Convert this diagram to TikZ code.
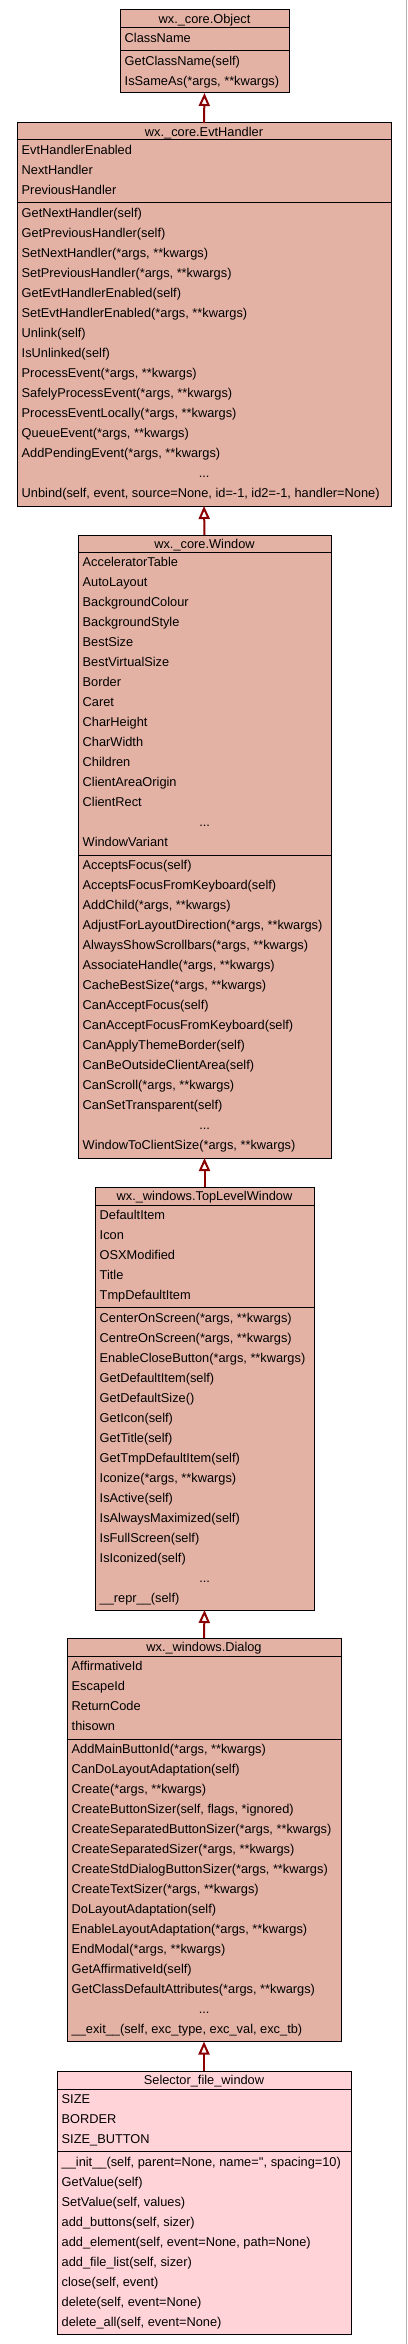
\documentclass[tikz,border=0pt]{standalone}
\usepackage{fontspec}
\newfontfamily\umlfont{Liberation Sans}
\usetikzlibrary{arrows.meta}
\definecolor{salmonbox}{RGB}{228,178,165}
\definecolor{pinkbox}{RGB}{255,211,215}
\definecolor{arrowred}{RGB}{139,0,0}
\newlength\curw
\tikzset{
  classbox/.style={draw=black, line width=1pt, rectangle, inner sep=0pt, outer sep=0pt},
  sepline/.style={draw=black, line width=1pt},
  titletext/.style={font=\umlfont\fontsize{12.8}{15}\selectfont, anchor=base, inner sep=0pt},
  rowtext/.style={font=\umlfont\fontsize{12.8}{15}\selectfont, anchor=base west, inner sep=0pt},
  inh/.style={draw=arrowred, line width=2pt, -{Triangle[open, length=13pt, width=11pt]}},
}
\newcommand\ELL{\makebox[\curw][c]{...}}
\newcommand\umlclass[9]{%
  \pgfmathsetmacro\cwd{#3-#2}%
  \pgfmathsetmacro\cht{#7-#4}%
  \setlength\curw{\dimexpr\cwd pt-9pt\relax}%
  \node[classbox, fill=#8, minimum width=\cwd pt, minimum height=\cht pt] (#1) at ({(#2+#3)/2},{(#4+#7)/2}) {};
  \draw[sepline] (#2,#5) -- (#3,#5);
  \draw[sepline] (#2,#6) -- (#3,#6);
  \node[titletext] (#1-title) at ({(#2+#3)/2},#4+13.5) {#9};
  \def\clft{#2}\def\ctit{#5}\def\csep{#6}\def\cnam{#1}%
}
\newcommand\attrs[1]{\foreach \t [count=\i from 0] in {#1} {\node[rowtext] (\cnam-a\i) at (\clft+4.5,\ctit+14.8+20*\i) {\t};}}
\newcommand\meths[1]{\foreach \t [count=\i from 0] in {#1} {\node[rowtext] (\cnam-m\i) at (\clft+4.5,\csep+14.8+20*\i) {\t};}}
\begin{document}
\begin{tikzpicture}[x=1pt,y=-1pt]
\useasboundingbox (0,0) rectangle (407,2344);
\fill[white] (0,0) rectangle (407,2344);
\draw[black!30, line width=1pt] (406,0) -- (406,2344);

\umlclass{obj}{120}{289}{10}{28}{51}{93}{salmonbox}{wx.\_core.Object}
\attrs{ClassName}
\meths{GetClassName(self),{IsSameAs(*args, **kwargs)}}

\umlclass{evt}{17}{391}{123}{140}{203}{506}{salmonbox}{wx.\_core.EvtHandler}
\attrs{EvtHandlerEnabled,NextHandler,PreviousHandler}
\meths{GetNextHandler(self),GetPreviousHandler(self),{SetNextHandler(*args, **kwargs)},{SetPreviousHandler(*args, **kwargs)},GetEvtHandlerEnabled(self),{SetEvtHandlerEnabled(*args, **kwargs)},Unlink(self),IsUnlinked(self),{ProcessEvent(*args, **kwargs)},{SafelyProcessEvent(*args, **kwargs)},{ProcessEventLocally(*args, **kwargs)},{QueueEvent(*args, **kwargs)},{AddPendingEvent(*args, **kwargs)},\ELL,{Unbind(self, event, source=None, id=-1, id2=-1, handler=None)}}

\umlclass{win}{78}{331}{535}{552}{855}{1158}{salmonbox}{wx.\_core.Window}
\attrs{AcceleratorTable,AutoLayout,BackgroundColour,BackgroundStyle,BestSize,BestVirtualSize,Border,Caret,CharHeight,CharWidth,Children,ClientAreaOrigin,ClientRect,\ELL,WindowVariant}
\meths{AcceptsFocus(self),AcceptsFocusFromKeyboard(self),{AddChild(*args, **kwargs)},{AdjustForLayoutDirection(*args, **kwargs)},{AlwaysShowScrollbars(*args, **kwargs)},{AssociateHandle(*args, **kwargs)},{CacheBestSize(*args, **kwargs)},CanAcceptFocus(self),CanAcceptFocusFromKeyboard(self),CanApplyThemeBorder(self),CanBeOutsideClientArea(self),{CanScroll(*args, **kwargs)},CanSetTransparent(self),\ELL,{WindowToClientSize(*args, **kwargs)}}

\umlclass{tlw}{95}{314}{1187}{1205}{1307.5}{1610}{salmonbox}{wx.\_windows.TopLevelWindow}
\attrs{DefaultItem,Icon,OSXModified,Title,TmpDefaultItem}
\meths{{CenterOnScreen(*args, **kwargs)},{CentreOnScreen(*args, **kwargs)},{EnableCloseButton(*args, **kwargs)},GetDefaultItem(self),GetDefaultSize(),GetIcon(self),GetTitle(self),GetTmpDefaultItem(self),{Iconize(*args, **kwargs)},IsActive(self),IsAlwaysMaximized(self),IsFullScreen(self),IsIconized(self),\ELL,\_\_repr\_\_(self)}

\umlclass{dlg}{67}{341}{1638}{1656}{1739}{2041.5}{salmonbox}{wx.\_windows.Dialog}
\attrs{AffirmativeId,EscapeId,ReturnCode,thisown}
\meths{{AddMainButtonId(*args, **kwargs)},CanDoLayoutAdaptation(self),{Create(*args, **kwargs)},{CreateButtonSizer(self, flags, *ignored)},{CreateSeparatedButtonSizer(*args, **kwargs)},{CreateSeparatedSizer(*args, **kwargs)},{CreateStdDialogButtonSizer(*args, **kwargs)},{CreateTextSizer(*args, **kwargs)},DoLayoutAdaptation(self),{EnableLayoutAdaptation(*args, **kwargs)},{EndModal(*args, **kwargs)},GetAffirmativeId(self),{GetClassDefaultAttributes(*args, **kwargs)},\ELL,{\_\_exit\_\_(self, exc\_type, exc\_val, exc\_tb)}}

\umlclass{sel}{57}{351}{2071}{2089}{2151.5}{2334}{pinkbox}{Selector\_file\_window}
\attrs{SIZE,BORDER,SIZE\_BUTTON}
\meths{{\_\_init\_\_(self, parent=None, name='', spacing=10)},GetValue(self),{SetValue(self, values)},{add\_buttons(self, sizer)},{add\_element(self, event=None, path=None)},{add\_file\_list(self, sizer)},{close(self, event)},{delete(self, event=None)},{delete\_all(self, event=None)}}

\draw[inh] (evt.north) -- (obj.south);
\draw[inh] (win.north) -- (evt.south);
\draw[inh] (tlw.north) -- (win.south);
\draw[inh] (dlg.north) -- (tlw.south);
\draw[inh] (sel.north) -- (dlg.south);
\end{tikzpicture}
\end{document}
